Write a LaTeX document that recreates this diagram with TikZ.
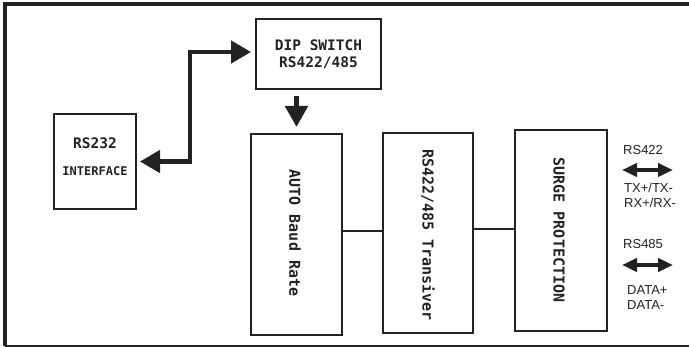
\documentclass[tikz,border=0pt]{standalone}
\usepackage{fontspec}
\setmainfont{Liberation Sans}
\newfontfamily\boxfont{DejaVu Sans Mono}
\usetikzlibrary{arrows.meta}
\definecolor{ink}{HTML}{222222}
\tikzset{
  blk/.style={draw=ink, line width=2pt, inner sep=0pt, font=\boxfont\bfseries\fontsize{14.5}{17}\selectfont, align=center, text=ink},
  vtext/.style={font=\boxfont\bfseries\fontsize{15}{18}\selectfont, text=ink, rotate=-90, inner sep=0pt},
  link/.style={draw=ink, line width=2pt},
  fat/.style={draw=ink, line width=4.5pt, {Triangle[length=20pt,width=22pt]}-{Triangle[length=20pt,width=22pt]}},
  down/.style={draw=ink, line width=5pt, -{Triangle[length=21pt,width=22pt]}},
  sig/.style={draw=ink, line width=4pt, {Triangle[length=15pt,width=13pt]}-{Triangle[length=15pt,width=13pt]}},
  lab/.style={font=\fontsize{13}{15}\selectfont, text=ink, anchor=west, inner sep=0pt}
}
\begin{document}
\begin{tikzpicture}[x=1pt,y=1pt]
\useasboundingbox (0,0) rectangle (689,-347);
% frame
\draw[ink, line width=4pt] (689,-4) -- (5,-4) -- (5,-346);
\draw[ink, line width=1.6pt] (5,-346) -- (689,-346);
% blocks
\node[blk, minimum width=125pt, minimum height=70pt] (dip) at (318.5,-54) {DIP SWITCH\\RS422/485};
\node[blk, minimum width=82pt, minimum height=95pt] (rs232) at (95,-161.5) {};
\node[font=\boxfont\bfseries\fontsize{14.5}{17}\selectfont, text=ink, inner sep=0pt] (rs232a) at (95,-143) {RS232};
\node[font=\boxfont\bfseries\fontsize{12}{14}\selectfont, text=ink, inner sep=0pt] (rs232b) at (95,-171) {INTERFACE};
\node[blk, minimum width=91pt, minimum height=201pt] (auto) at (296.5,-234.5) {};
\node[vtext] (autot) at (295,-233) {AUTO Baud Rate};
\node[blk, minimum width=90pt, minimum height=200pt] (trans) at (428,-233) {};
\node[vtext] (transt) at (428,-235) {RS422/485 Transiver};
\node[blk, minimum width=92pt, minimum height=201pt] (surge) at (561,-230.5) {};
\node[vtext] (surget) at (559,-230) {SURGE PROTECTION};
% connectors
\draw[link] (auto.east |- 0,-231) -- (trans.west |- 0,-231);
\draw[link] (trans.east |- 0,-229) -- (surge.west |- 0,-229);
\draw[fat] ([xshift=3pt]rs232.east) -| ([xshift=-65pt,yshift=2pt]dip.west) -- ([xshift=-4pt,yshift=2pt]dip.west);
\draw[down] ([yshift=-6pt]auto.north |- dip.south) -- ([yshift=6pt]auto.north);
% right side
\coordinate (a1) at (622,-170);
\coordinate (a2) at (673,-170);
\coordinate (b1) at (622,-265);
\coordinate (b2) at (673,-265);
\draw[sig] (a1) -- (a2);
\draw[sig] (b1) -- (b2);
\node[lab] (l1) at (623,-150) {RS422};
\node[lab] (l2) at (624,-188) {TX+/TX-};
\node[lab] (l3) at (624,-203) {RX+/RX-};
\node[lab] (l4) at (623,-244) {RS485};
\node[lab] (l5) at (627,-290) {DATA+};
\node[lab] (l6) at (627,-305) {DATA-};
\end{tikzpicture}
\end{document}
